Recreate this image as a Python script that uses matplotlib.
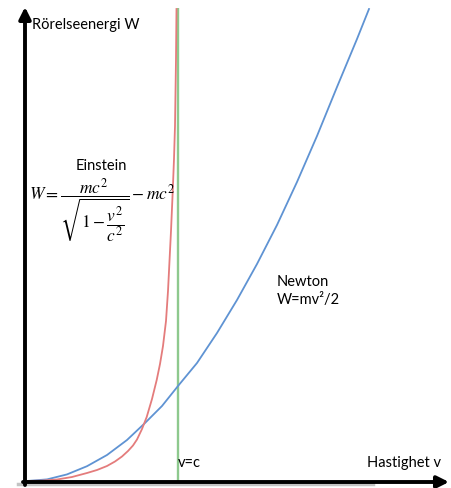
import matplotlib
matplotlib.use("Agg")
import matplotlib.pyplot as plt

# Curves (units: v and W on an arbitrary linear scale)
newton_v = [0, 20, 40, 60, 80, 100, 118, 135, 151, 170, 190, 210, 230,
            250, 270, 290, 310, 330, 342]
newton_w = [0, 1.6, 6.6, 14.8, 26, 41, 58, 75, 95, 118, 148, 181, 217,
            256, 299, 345, 394, 442, 472]

einstein_v = [0, 15, 30, 45, 60, 70, 80, 88, 95, 101, 106, 110, 115, 119.7,
              125, 129.7, 133, 136, 139, 141, 142, 144, 145.7, 147, 148, 149, 149.5]
einstein_w = [0, 0.4, 1.5, 4, 8, 11, 15, 19.5, 24.5, 30, 35.5, 41.5, 52, 64,
              82, 101, 117, 135, 160, 190, 210, 250, 289, 322, 355, 422, 472]

light_speed = 151

BLUE = "#5f93d3"
RED = "#e47c7c"
GREEN = "#8ec98e"
FONT = "Lato"

plt.rcParams["mathtext.fontset"] = "stix"

fig = plt.figure(figsize=(4.52, 4.88), dpi=100)
ax = fig.add_axes([27 / 452, 7 / 488, 420 / 452, 473 / 488])
ax.set_xlim(0, 420)
ax.set_ylim(0, 473)
ax.set_axis_off()

ax.plot(newton_v, newton_w, color=BLUE, lw=1.3, solid_joinstyle="round", zorder=3)
ax.plot(einstein_v, einstein_w, color=RED, lw=1.3, solid_joinstyle="round", zorder=3)
ax.plot([light_speed, light_speed], [0, 472], color=GREEN, lw=1.7, zorder=2)

# axis arrows
ax.plot([-9, 346], [-3, -3], color="#c4c4c4", lw=2.5, clip_on=False, zorder=1)
ax.annotate("", xy=(422, -1), xytext=(-4, -1), xycoords="data",
            arrowprops=dict(arrowstyle="-|>,head_length=0.7,head_width=0.35",
                            color="black", lw=2.8, shrinkA=0, shrinkB=0),
            annotation_clip=False, zorder=4)
ax.annotate("", xy=(-2, 474), xytext=(-2, -4), xycoords="data",
            arrowprops=dict(arrowstyle="-|>,head_length=0.7,head_width=0.35",
                            color="black", lw=2.8, shrinkA=0, shrinkB=0),
            annotation_clip=False, zorder=4)

ax.text(5, 456, "Rörelseenergi W", fontsize=10.5, family=FONT,
        ha="left", va="center", clip_on=False)
ax.text(74, 315, "Einstein", fontsize=10.5, family=FONT, ha="center", va="center")
ax.text(2, 270, r"$W=\dfrac{mc^2}{\sqrt{1-\dfrac{v^2}{c^2}}}-mc^2$",
        fontsize=12.5, ha="left", va="center", clip_on=False)
ax.text(250, 199, "Newton", fontsize=10.5, family=FONT, ha="left", va="center")
ax.text(250, 181, "W=mv²/2", fontsize=10.5, family=FONT, ha="left", va="center")
ax.text(151, 18, "v=c", fontsize=10.5, family=FONT, ha="left", va="center")
ax.text(340, 18, "Hastighet v", fontsize=10.5, family=FONT, ha="left", va="center")

fig.savefig("out.png", dpi=100, facecolor="white")
